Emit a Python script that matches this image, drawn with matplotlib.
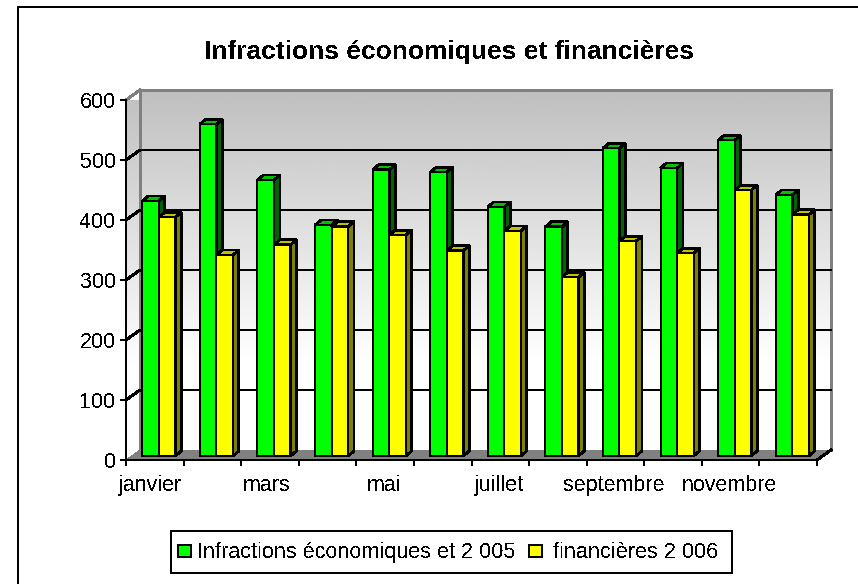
import numpy as np
import matplotlib
matplotlib.use("Agg")
import matplotlib.pyplot as plt
from matplotlib.patches import Polygon, Rectangle
from matplotlib.lines import Line2D

plt.rcParams['font.family'] = ['Liberation Sans', 'DejaVu Sans']
plt.rcParams['text.antialiased'] = False

title = "Infractions économiques et financières"
months = ["janvier", "", "mars", "", "mai", "", "juillet", "", "septembre", "", "novembre", ""]
series_2005 = [425, 553, 460, 385, 477, 473, 415, 382, 513, 480, 526, 435]
series_2006 = [398, 335, 352, 382, 368, 342, 375, 298, 358, 338, 443, 402]
name_2005 = "Infractions économiques et 2 005"
name_2006 = "financières 2 006"
y_ticks = [0, 100, 200, 300, 400, 500, 600]

W, H = 858, 584
fig = plt.figure(figsize=(W / 100, H / 100), dpi=100, facecolor="white")
L, R, T, B = 126, 817, 100, 460
ax = fig.add_axes([L / W, 1 - B / H, (R - L) / W, (B - T) / H])
ax.set_xlim(0, 12)
ax.set_ylim(0, 600)
ax.patch.set_visible(False)
for s in ax.spines.values():
    s.set_visible(False)

px = 12 / (R - L)   # data units per pixel, x
py = 600 / (B - T)  # data units per pixel, y
wx, wy = 14 * px, 10 * py   # wall depth
lw = 1.44
BLK = "black"

def poly(pts, fc, ec="none", z=1, lw_=0):
    p = Polygon(pts, closed=True, facecolor=fc, edgecolor=ec, linewidth=lw_, zorder=z,
                clip_on=False, antialiased=False, joinstyle="miter")
    ax.add_patch(p)
    return p

# gradient walls
grad = np.clip(np.linspace(0.75, 1.08, 256), 0, 1)[:, None]
back = ax.imshow(grad, extent=(wx, 12 + wx, wy, 600 + wy), origin="upper", cmap="gray",
                 vmin=0, vmax=1, aspect="auto", zorder=0, clip_on=False)
side = ax.imshow(grad, extent=(0, wx, 0, 600 + wy), origin="upper", cmap="gray",
                 vmin=0, vmax=1, aspect="auto", zorder=0, clip_on=True)
side.set_clip_path(Polygon([(0, 0), (wx, wy), (wx, 600 + wy), (0, 600)], transform=ax.transData))
ax.set_xlim(0, 12)
ax.set_ylim(0, 600)

# floor
poly([(0, 0), (12, 0), (12 + wx, wy), (wx, wy)], "#808080", z=1)

# wall border
G = "#808080"
ax.add_line(Line2D([wx, wx, 12 + wx, 12 + wx], [wy, 600 + wy, 600 + wy, wy], color=G, lw=lw * 1.3,
                   clip_on=False, zorder=1, antialiased=False, solid_joinstyle="miter"))
ax.add_line(Line2D([0, wx], [600, 600 + wy], color=G, lw=lw, clip_on=False, zorder=1, antialiased=False))

# gridlines
for v in y_ticks[1:-1]:
    ax.add_line(Line2D([0, wx, 12 + wx], [v, v + wy, v + wy], color=BLK, lw=lw, clip_on=False,
                       zorder=1, antialiased=False))
ax.add_line(Line2D([12, 12 + wx], [0, wy], color=BLK, lw=lw, clip_on=False, zorder=2, antialiased=False))

# bars
bw = 16.5 * px
ox, oy = 4.0 * px, 4 * py   # offset of the category's bar pair from the front plane
dx, dy = 6 * px, 5 * py     # bar depth
blw = 1.3

def bar3d(x0, h, front, topc, sidec, z):
    x1 = x0 + bw
    poly([(x1, oy), (x1 + dx, oy + dy), (x1 + dx, h + dy), (x1, h)], sidec, BLK, z, blw)
    poly([(x0, h), (x1, h), (x1 + dx, h + dy), (x0 + dx, h + dy)], topc, BLK, z, blw)
    poly([(x0, oy), (x1, oy), (x1, h), (x0, h)], front, BLK, z + 0.1, blw)

for i, (a, b) in enumerate(zip(series_2005, series_2006)):
    c = i + 0.5 + ox
    bar3d(c - bw, a + oy, "#00ff00", "#00c000", "#006400", 3 + i * 0.01)
    bar3d(c, b + oy, "#ffff00", "#c0c000", "#808000", 3.3 + i * 0.01)

# axes lines and ticks
ax.add_line(Line2D([0, 0], [0, 600], color=BLK, lw=lw, clip_on=False, zorder=5, antialiased=False))
ax.add_line(Line2D([0, 12], [0, 0], color=BLK, lw=lw, clip_on=False, zorder=5, antialiased=False))
ax.set_yticks(y_ticks)
ax.set_yticklabels([str(v) for v in y_ticks], fontsize=15.5, color=BLK)
ax.set_xticks(range(13))
ax.set_xticklabels([""] * 13)
ax.tick_params(axis="both", length=4.3, width=lw, color=BLK, direction="out", pad=3)
ax.tick_params(axis="x", pad=0)
for i, m in enumerate(months):
    if m:
        shift = -3.0 if i == 0 else (-2.4 if i == 2 else -0.7)
        ax.annotate(m, (i + 0.5, 0), xytext=(shift, -18.2), textcoords="offset points",
                    ha="center", va="center", fontsize=15.5, color=BLK, annotation_clip=False)

# chart frame (top and left only)
fig.add_artist(Line2D([18 / W, 18 / W, 857 / W], [0, 1 - 7 / H, 1 - 7 / H], color=BLK, lw=lw,
                      antialiased=False, solid_joinstyle="miter"))

# title
fig.text(449 / W, 1 - 51.5 / H, title, ha="center", va="center", fontsize=19, fontweight="bold", color=BLK)

# legend
fig.add_artist(Rectangle((171 / W, 1 - 573 / H), (732 - 171) / W, 42 / H, transform=fig.transFigure,
                         facecolor="white", edgecolor=BLK, linewidth=lw, antialiased=False))
fig.add_artist(Rectangle((178 / W, 1 - 557 / H), 13 / W, 12 / H, transform=fig.transFigure,
                         facecolor="#00ff00", edgecolor=BLK, linewidth=lw, antialiased=False))
fig.add_artist(Rectangle((529 / W, 1 - 557 / H), 13 / W, 12 / H, transform=fig.transFigure,
                         facecolor="#ffff00", edgecolor=BLK, linewidth=lw, antialiased=False))
fig.text(197 / W, 1 - 552.5 / H, name_2005, ha="left", va="center", fontsize=15.6, color=BLK)
fig.text(553 / W, 1 - 552.5 / H, name_2006, ha="left", va="center", fontsize=15.7, color=BLK)

fig.savefig("out.png", dpi=100)
